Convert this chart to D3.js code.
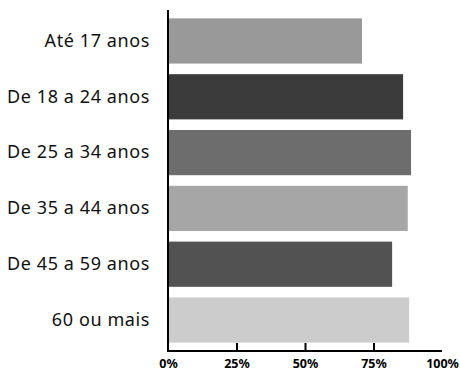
<!DOCTYPE html>
<html>
<head>
<meta charset="utf-8">
<script src="https://cdn.jsdelivr.net/npm/d3@7"></script>
<style>
  html, body { margin: 0; padding: 0; background: #fff; }
  svg { display: block; }
</style>
</head>
<body>
<div id="chart"></div>
<script>
// Age groups and the share (%) for each
const categories = ["Até 17 anos", "De 18 a 24 anos", "De 25 a 34 anos", "De 35 a 44 anos", "De 45 a 59 anos", "60 ou mais"];
const values = [70.8, 85.8, 88.7, 87.5, 81.8, 88.0];
const barColors = ["#999999", "#3b3b3b", "#6d6d6d", "#a6a6a6", "#525252", "#cccccc"];
const tickValues = [0, 25, 50, 75, 100];
const tickLabels = ["0%", "25%", "50%", "75%", "100%"];

const W = 460, H = 372;
const plotLeft = 168, plotRight = 442, plotTop = 10, plotBottom = 351;

const svg = d3.select("#chart").append("svg")
  .attr("width", W).attr("height", H);

const x = d3.scaleLinear().domain([0, 100]).range([plotLeft, plotRight]);
const y = d3.scaleBand().domain(categories).range([plotTop, plotBottom])
  .paddingInner(0.19).paddingOuter(0.15);

// Bars
svg.append("g").selectAll("rect")
  .data(categories)
  .join("rect")
  .attr("x", x(0) + 1)
  .attr("y", d => y(d))
  .attr("width", (d, i) => x(values[i]) - x(0) - 1)
  .attr("height", y.bandwidth())
  .attr("fill", (d, i) => barColors[i]);

// Category labels
const yAxis = svg.append("g")
  .attr("transform", `translate(${plotLeft},0)`)
  .call(d3.axisLeft(y).tickSize(0).tickPadding(18));
yAxis.select(".domain").remove();
yAxis.selectAll("text")
  .attr("font-family", "'Noto Sans', sans-serif")
  .attr("font-size", 18)
  .attr("letter-spacing", 0.6)
  .attr("fill", "#111");

// Value axis with inward ticks
const xAxis = svg.append("g")
  .attr("transform", `translate(0,${plotBottom})`)
  .call(d3.axisBottom(x).tickValues(tickValues)
    .tickFormat((d, i) => tickLabels[i]).tickSize(0).tickPadding(8));
xAxis.select(".domain").remove();
xAxis.selectAll(".tick line").remove();
xAxis.selectAll(".tick")
  .filter(d => d > 0 && d < 100)
  .append("line")
  .attr("y1", 0).attr("y2", -8)
  .attr("stroke", "#000").attr("stroke-width", 2);
xAxis.selectAll("text")
  .attr("font-family", "'Noto Sans', sans-serif")
  .attr("font-weight", "bold")
  .attr("font-size", 12.5)
  .attr("fill", "#000");

// Axis lines
svg.append("line")
  .attr("x1", plotLeft).attr("x2", plotLeft)
  .attr("y1", plotTop).attr("y2", plotBottom + 1)
  .attr("stroke", "#000").attr("stroke-width", 2);
svg.append("line")
  .attr("x1", plotLeft - 1).attr("x2", plotRight)
  .attr("y1", plotBottom).attr("y2", plotBottom)
  .attr("stroke", "#000").attr("stroke-width", 2);
</script>
</body>
</html>
